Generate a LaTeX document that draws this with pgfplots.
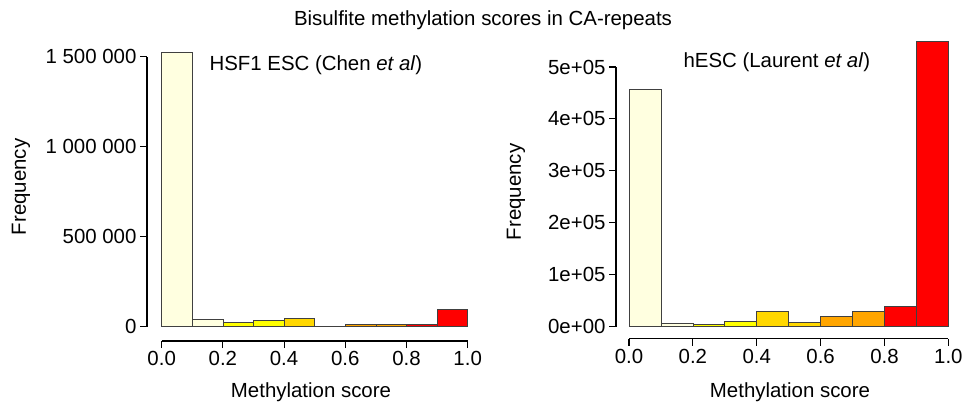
\documentclass[border=0pt]{standalone}
\usepackage{pgfplots}
\pgfplotsset{compat=1.18}
\usepackage{fontspec}
\setmainfont{Liberation Sans}
\definecolor{lyel}{HTML}{FFFFE0}
\definecolor{yel}{HTML}{FFFF00}
\definecolor{gld}{HTML}{FFD700}
\definecolor{orn}{HTML}{FFA500}
\definecolor{rd}{HTML}{FF0000}
\definecolor{edge}{HTML}{404040}
\pgfplotsset{
  rstyle/.style={
    scale only axis, anchor=south west, clip=false,
    axis x line*=bottom, axis y line*=left,
    axis line style={draw=none},
    tick align=outside, major tick length=7bp,
    tick style={black, line width=1.1pt},
    xtick={0,0.2,0.4,0.6,0.8,1},
    xticklabels={0.0,0.2,0.4,0.6,0.8,1.0},
    scaled y ticks=false, scaled x ticks=false,
    tick label style={font=\fontsize{20.5}{24}\selectfont},
    ytick pos=left, xtick pos=bottom,
  },
  bin/.style={ybar interval, fill=#1, draw=edge, line width=0.7pt},
}
\begin{document}
\begin{tikzpicture}[x=1bp,y=1bp,font=\fontsize{20.5}{24}\selectfont]
\path[use as bounding box] (0,0) rectangle (962,403);
\node at (483,383) {Bisulfite methylation scores in CA-repeats};
% left panel
\begin{axis}[rstyle, at={(147bp,62bp)}, width=332.9bp, height=302.3bp,
  xmin=-0.048, xmax=1.04, ymin=-79400, ymax=1600000,
  ytick={0,500000,1000000,1500000},
  yticklabels={0,500 000,1 000 000,1 500 000}]
\addplot[bin=lyel] coordinates {(0,1524000) (0.1,1524000)};
\addplot[bin=lyel] coordinates {(0.1,39000) (0.2,39000)};
\addplot[bin=yel] coordinates {(0.2,25000) (0.3,25000)};
\addplot[bin=yel] coordinates {(0.3,36000) (0.4,36000)};
\addplot[bin=gld] coordinates {(0.4,48000) (0.5,48000)};
\addplot[bin=gld] coordinates {(0.5,4000) (0.6,4000)};
\addplot[bin=orn] coordinates {(0.6,13000) (0.7,13000)};
\addplot[bin=orn] coordinates {(0.7,13000) (0.8,13000)};
\addplot[bin=rd] coordinates {(0.8,15000) (0.9,15000)};
\addplot[bin=rd] coordinates {(0.9,95000) (1.0,95000)};
\draw[line width=1.1pt] (axis cs:0,-79400) -- (axis cs:1,-79400);
\draw[line width=1.1pt] (axis cs:-0.048,0) -- (axis cs:-0.048,1500000);
\end{axis}
% right panel
\begin{axis}[rstyle, at={(616bp,64.5bp)}, width=345.1bp, height=313bp,
  xmin=-0.0407, xmax=1.04, ymin=-23100, ymax=580000,
  ytick={0,100000,200000,300000,400000,500000},
  yticklabels={0e+00,1e+05,2e+05,3e+05,4e+05,5e+05}]
\addplot[bin=lyel] coordinates {(0,457000) (0.1,457000)};
\addplot[bin=lyel] coordinates {(0.1,7000) (0.2,7000)};
\addplot[bin=yel] coordinates {(0.2,5000) (0.3,5000)};
\addplot[bin=yel] coordinates {(0.3,10000) (0.4,10000)};
\addplot[bin=gld] coordinates {(0.4,29000) (0.5,29000)};
\addplot[bin=gld] coordinates {(0.5,8000) (0.6,8000)};
\addplot[bin=orn] coordinates {(0.6,20000) (0.7,20000)};
\addplot[bin=orn] coordinates {(0.7,30000) (0.8,30000)};
\addplot[bin=rd] coordinates {(0.8,38500) (0.9,38500)};
\addplot[bin=rd] coordinates {(0.9,550000) (1.0,550000)};
\draw[line width=1.1pt] (axis cs:0,-23100) -- (axis cs:1,-23100);
\draw[line width=1.1pt] (axis cs:-0.0407,0) -- (axis cs:-0.0407,500000);
\end{axis}
\node[anchor=west] at (206,338) {HSF1 ESC (Chen \textit{et al})};
\node[anchor=west] at (680,341) {hESC (Laurent \textit{et al})};
\node at (311,11) {Methylation score};
\node at (790,11) {Methylation score};
\node[rotate=90] at (21,216) {Frequency};
\node[rotate=90] at (516,211) {Frequency};
\end{tikzpicture}
\end{document}
